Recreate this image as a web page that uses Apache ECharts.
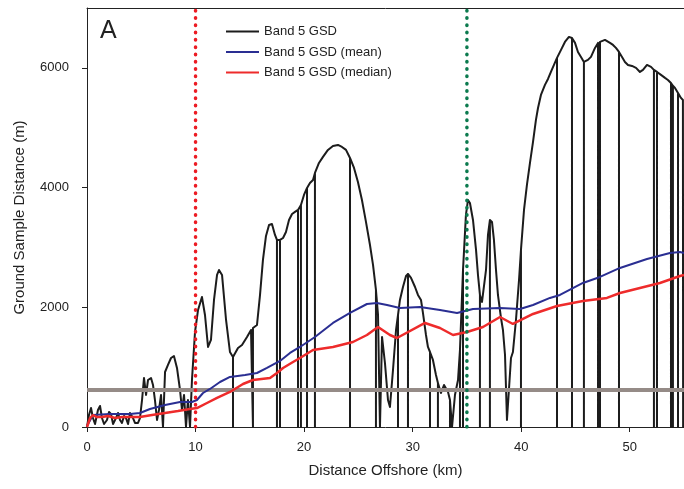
<!DOCTYPE html>
<html>
<head>
<meta charset="utf-8">
<title>Band 5 GSD</title>
<script src="https://cdn.jsdelivr.net/npm/echarts@6.0.0/dist/echarts.min.js"></script>
<style>
  html, body { margin: 0; padding: 0; background: #fff; }
  #chart { width: 684px; height: 489px; }
</style>
</head>
<body>
<div id="chart"></div>
<script>
  // distance offshore (km), GSD (m); third value 1 = the trace drops to 0 there
  const gsdPoints = [
    [0.00, 0], [0.18, 200], [0.37, 317], [0.55, 150], [0.74, 50], [1.01, 284], [1.20, 351],
    [1.38, 150], [1.57, 50], [1.84, 117], [2.03, 251], [2.21, 217], [2.40, 50], [2.67, 150],
    [2.86, 234], [3.04, 117], [3.22, 67], [3.41, 184], [3.59, 150], [3.78, 50], [3.96, 234],
    [4.24, 150], [4.42, 67], [4.70, 67], [4.88, 150], [5.07, 451], [5.25, 819], [5.44, 535],
    [5.62, 785], [5.90, 819], [6.08, 702], [6.26, 451], [6.45, 117], [6.63, 284], [6.82, 535],
    [7.00, 0], [7.19, 919], [7.46, 1036], [7.74, 1153], [8.01, 1186], [8.29, 986], [8.57, 618],
    [8.75, 284], [8.94, 535], [9.12, 0], [9.30, 451], [9.49, 0], [9.67, 785], [9.95, 1587],
    [10.23, 1955], [10.59, 2172], [10.87, 1871], [11.15, 1337], [11.42, 1454], [11.70, 2122],
    [11.98, 2540], [12.16, 2623], [12.44, 2540], [12.81, 1788], [13.17, 1253], [13.45, 1170, 1],
    [13.63, 1203], [13.91, 1320], [14.28, 1370], [14.74, 1504], [15.11, 1621], [15.29, 1654, 1],
    [15.66, 1704], [15.94, 2206], [16.21, 2791], [16.49, 3192], [16.77, 3375], [17.04, 3392],
    [17.32, 3208], [17.50, 3125, 1], [17.78, 3125, 1], [18.06, 3158], [18.33, 3258], [18.61, 3459],
    [18.89, 3559], [19.16, 3593], [19.44, 3626, 1], [19.71, 3710, 1], [19.99, 3877], [20.27, 3994, 1],
    [20.54, 4077], [20.82, 4127], [21.00, 4244, 1], [21.37, 4411], [21.74, 4512], [22.20, 4629],
    [22.66, 4696], [23.12, 4712], [23.49, 4679], [23.86, 4629], [24.23, 4495, 1], [24.60, 4328],
    [24.96, 4094], [25.33, 3793], [25.70, 3426], [26.07, 3041], [26.35, 2707], [26.62, 2289, 1],
    [26.81, 1872], [26.99, 0], [27.18, 1504], [27.45, 1069], [27.73, 451], [27.91, 334], [28.19, 952],
    [28.47, 1621], [28.65, 1871, 1], [28.83, 2122], [29.11, 2339], [29.39, 2523], [29.57, 2557, 1],
    [29.85, 2490], [30.22, 2339], [30.49, 2206], [30.77, 2122], [30.95, 1905], [31.23, 1537],
    [31.41, 1337], [31.60, 1253, 1], [31.87, 1120], [32.15, 869], [32.33, 735, 1], [32.61, 568],
    [32.89, 702], [33.07, 735], [33.26, 585], [33.44, 451, 1], [33.63, 0], [33.90, 535], [34.18, 785],
    [34.36, 1287, 1], [34.64, 2623, 1], [34.91, 3543], [35.10, 3793], [35.28, 3743], [35.56, 3459],
    [35.84, 2958], [36.02, 2540], [36.20, 2206, 1], [36.39, 2089], [36.57, 2122], [36.76, 2623],
    [36.94, 3208], [37.12, 3459, 1], [37.31, 3426], [37.49, 3125], [37.68, 2623], [37.86, 2206],
    [38.14, 1821], [38.32, 1621], [38.51, 1203], [38.69, 117], [38.87, 618], [39.06, 1153],
    [39.24, 1253], [39.52, 1788], [39.80, 2456], [39.98, 2958, 1], [40.26, 3626], [40.53, 4044],
    [40.81, 4411], [41.09, 4762], [41.36, 5130], [41.55, 5330], [41.82, 5548], [42.19, 5715],
    [42.47, 5815], [42.74, 5932], [43.02, 6049], [43.30, 6166, 1], [43.67, 6300], [44.03, 6433],
    [44.40, 6517], [44.68, 6500, 1], [44.96, 6417], [45.23, 6266], [45.51, 6183], [45.78, 6099, 1],
    [46.15, 6133], [46.43, 6183], [46.80, 6333], [47.08, 6417, 1], [47.26, 6433, 1], [47.44, 6433],
    [47.72, 6467], [47.90, 6500], [48.18, 6417], [48.46, 6383], [48.73, 6333], [49.01, 6266, 1],
    [49.29, 6183], [49.56, 6099], [49.84, 6049], [50.21, 6032], [50.58, 5999], [50.94, 5932],
    [51.22, 5966], [51.59, 6049], [51.96, 6016], [52.23, 5966, 1], [52.51, 5932, 1], [52.88, 5882],
    [53.25, 5832], [53.52, 5798], [53.80, 5748, 1], [53.98, 5700, 1], [54.17, 5665], [54.45, 5581, 1],
    [54.72, 5498], [54.90, 5464], [54.92, 0], [55.00, 370]
  ];

  const meanPoints = [
    [0.00, 17], [0.55, 200], [2.12, 217], [3.96, 217], [4.88, 234], [5.80, 301], [7.19, 368],
    [8.57, 418], [9.67, 418], [10.13, 451], [10.69, 568], [11.33, 635], [12.25, 752], [13.17, 836],
    [14.56, 869], [15.66, 902], [16.58, 986], [17.78, 1103], [18.70, 1237], [19.62, 1337],
    [21.00, 1504], [22.66, 1738], [24.23, 1905], [25.79, 2055], [26.71, 2072], [27.64, 2039],
    [28.83, 1989], [30.68, 2005], [32.52, 1955], [34.09, 1905], [35.56, 1972], [38.05, 1989],
    [39.89, 1972], [41.09, 2039], [42.65, 2156], [43.57, 2206], [45.69, 2406], [47.26, 2507],
    [49.10, 2657], [51.59, 2807], [53.71, 2908], [54.63, 2924], [55.00, 2908]
  ];

  const medianPoints = [
    [0.00, 0], [0.28, 150], [0.55, 200], [0.92, 167], [1.38, 167], [1.93, 184], [2.58, 150],
    [3.22, 167], [3.78, 167], [4.88, 167], [5.99, 200], [7.19, 234], [8.38, 267], [9.49, 301],
    [10.13, 317], [11.05, 401], [11.98, 485], [13.17, 585], [14.37, 719], [15.29, 785], [16.86, 819],
    [17.50, 902], [18.06, 986], [18.98, 1086], [19.62, 1153], [20.82, 1287], [22.66, 1337],
    [24.50, 1420], [25.79, 1537], [26.81, 1671], [27.91, 1537], [28.56, 1487], [31.14, 1738],
    [32.52, 1654], [33.72, 1537], [35.01, 1587], [36.48, 1671], [38.05, 1838], [39.24, 1721],
    [41.09, 1888], [43.30, 2022], [45.69, 2105], [47.90, 2156], [49.10, 2239], [50.94, 2323],
    [52.78, 2406], [54.63, 2523], [55.00, 2540]
  ];

  const threshold = 620;           // grey horizontal line (m)
  const redMarkerKm = 10;          // red dotted line
  const greenMarkerKm = 35;        // green dotted line
  const xTicks = [0, 10, 20, 30, 40, 50];
  const yTicks = [0, 2000, 4000, 6000];
  const xMax = 55;
  const yMax = 7000;

  // expand the drop flags into vertical spikes down to zero
  const gsdLine = [];
  gsdPoints.forEach(p => {
    gsdLine.push([p[0], p[1]]);
    if (p[2]) {
      gsdLine.push([p[0], 0]);
      gsdLine.push([p[0], p[1]]);
    }
  });

  const font = 'Liberation Sans, Arial, sans-serif';
  const myChart = echarts.init(document.getElementById('chart'));
  const options = {
    animation: false,
    backgroundColor: '#fff',
    grid: { left: 87, right: 0, top: 8, bottom: 62, containLabel: false },
    graphic: [{
      type: 'text',
      left: 100,
      top: 19,
      style: { text: 'A', fontSize: 25, fontFamily: font, fill: '#222' }
    }],
    legend: {
      orient: 'vertical',
      left: 221,
      top: 20,
      icon: 'rect',
      itemWidth: 33,
      itemHeight: 2,
      itemGap: 7.5,
      textStyle: { fontFamily: font, fontSize: 13, color: '#222' },
      data: ['Band 5 GSD', 'Band 5 GSD (mean)', 'Band 5 GSD (median)']
    },
    xAxis: [{
      type: 'value',
      min: 0,
      max: xMax,
      name: 'Distance Offshore (km)',
      nameLocation: 'middle',
      nameGap: 36,
      nameTextStyle: { fontFamily: font, fontSize: 15, color: '#222' },
      axisLine: { show: true, onZero: false, lineStyle: { color: '#222', width: 1 } },
      axisTick: { show: true, inside: false, length: 5, customValues: xTicks, lineStyle: { color: '#222' } },
      axisLabel: { customValues: xTicks, margin: 14, fontFamily: font, fontSize: 13, color: '#222' },
      splitLine: { show: false }
    }, {
      type: 'value',
      position: 'top',
      min: 0,
      max: xMax,
      axisLine: { show: true, onZero: false, lineStyle: { color: '#222', width: 1 } },
      axisTick: { show: false },
      axisLabel: { show: false },
      splitLine: { show: false }
    }],
    yAxis: {
      type: 'value',
      min: 0,
      max: yMax,
      name: 'Ground Sample Distance (m)',
      nameLocation: 'middle',
      nameGap: 60,
      nameTextStyle: { fontFamily: font, fontSize: 15, color: '#222' },
      axisLine: { show: true, onZero: false, lineStyle: { color: '#222', width: 1 } },
      axisTick: { show: true, inside: false, length: 5, customValues: yTicks, lineStyle: { color: '#222' } },
      axisLabel: {
        customValues: yTicks,
        margin: 18,
        fontFamily: font,
        fontSize: 13,
        color: '#222',
        formatter: v => String(v)
      },
      splitLine: { show: false }
    },
    series: [{
      name: 'Band 5 GSD',
      type: 'line',
      symbol: 'none',
      lineStyle: { color: '#1c1c1c', width: 2, join: 'round' },
      itemStyle: { color: '#1c1c1c' },
      data: gsdLine,
      z: 2
    }, {
      name: 'threshold',
      type: 'line',
      symbol: 'none',
      silent: true,
      lineStyle: { color: '#958b87', width: 4 },
      data: [[0, threshold], [xMax, threshold]],
      z: 3
    }, {
      name: 'Band 5 GSD (mean)',
      type: 'line',
      symbol: 'none',
      lineStyle: { color: '#2a2e92', width: 2 },
      itemStyle: { color: '#2a2e92' },
      data: meanPoints,
      z: 4
    }, {
      name: 'Band 5 GSD (median)',
      type: 'line',
      symbol: 'none',
      lineStyle: { color: '#ee2b2b', width: 2.5 },
      itemStyle: { color: '#ee2b2b' },
      data: medianPoints,
      z: 5
    }, {
      name: 'red marker',
      type: 'line',
      symbol: 'none',
      silent: true,
      lineStyle: { color: '#ec1c24', width: 3.5, type: [0.5, 6.8], cap: 'round' },
      data: [[redMarkerKm, 0], [redMarkerKm, yMax]],
      z: 6
    }, {
      name: 'green marker',
      type: 'line',
      symbol: 'none',
      silent: true,
      lineStyle: { color: '#0b7a4e', width: 3.5, type: [0.5, 6.8], cap: 'round' },
      data: [[greenMarkerKm, 0], [greenMarkerKm, yMax]],
      z: 6
    }]
  };
  myChart.setOption(options);
</script>
</body>
</html>
